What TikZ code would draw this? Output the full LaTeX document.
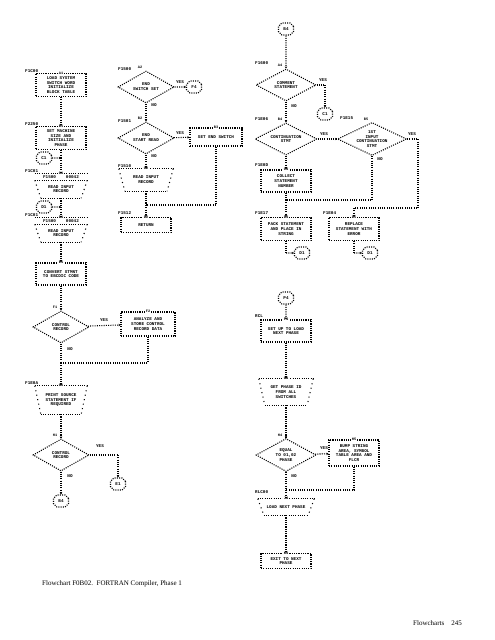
\documentclass[tikz,border=0pt]{standalone}
\usepackage{fontspec}
\setmainfont{Liberation Serif}
\newfontfamily\lpfont{Liberation Mono}
\usetikzlibrary{shapes.geometric,shapes.misc,arrows.meta}
\tikzset{
  ast/.style={line width=1.05pt, dash pattern=on 1.05pt off 1.2pt, black},
  sparse/.style={line width=1.05pt, dash pattern=on 1.05pt off 3.5pt, black},
  lp/.style={font=\lpfont\bfseries\fontsize{4.3}{4.8}\selectfont, align=center, inner sep=0pt, text=black},
  proc/.style={lp, draw, ast, minimum width=50, minimum height=22},
  dec/.style={lp, draw, ast, diamond, aspect=2.2, minimum width=56, minimum height=32, inner sep=0pt},
  conn/.style={lp, draw, ast, chamfered rectangle, chamfered rectangle xsep=2pt, chamfered rectangle ysep=2pt, minimum width=15, minimum height=12},
  flow/.style={ast},
  fa/.style={ast, -{Stealth[length=2pt,width=2.4pt]}},
  lbl/.style={lp, anchor=south west},
  yn/.style={lp},
  grid/.style={lp, fill=white, inner sep=0.4pt, font=\lpfont\bfseries\fontsize{3.6}{4}\selectfont}
}
\newcommand{\ionode}[6]{%
  \node[lp, minimum width=#3, minimum height=#4] (#1) at (#2) {#5};
  \draw[ast] (#1.north west) -- (#1.north east);
  \draw[ast] ([xshift=6pt]#1.south west) -- ([xshift=-6pt]#1.south east);
  \draw[sparse] (#1.north west) -- ([xshift=6pt]#1.south west);
  \draw[sparse] (#1.north east) -- ([xshift=-6pt]#1.south east);
  \node[grid] at (#1.north) {#6};
}
\newcommand{\stripenode}[7]{%
  \node[minimum width=#3, minimum height=#4, inner sep=0pt] (#1) at (#2) {};
  \draw[ast] (#1.north west) -- (#1.north east);
  \node[lp, anchor=north] at ([yshift=-1.3pt]#1.north) {#6};
  \draw[ast] ([yshift=-6.5pt]#1.north west) -- ([yshift=-6.5pt]#1.north east);
  \node[lp] at ([yshift=-3.2pt]#1.center) {#5};
  \draw[ast] ([xshift=6pt]#1.south west) -- ([xshift=-6pt]#1.south east);
  \draw[sparse] ([yshift=-6.5pt]#1.north west) -- ([xshift=6pt]#1.south west);
  \draw[sparse] ([yshift=-6.5pt]#1.north east) -- ([xshift=-6pt]#1.south east);
  \node[grid] at (#1.north) {#7};
}
\begin{document}
\begin{tikzpicture}[x=1pt,y=-1pt]
\useasboundingbox[fill=white] (0,0) rectangle (495,640);

% ---------------- column 1 ----------------
\node[proc, minimum height=23] (a1) at (61,85) {LOAD SYSTEM\\SWITCH WORD\\INITIALIZE\\BLOCK TABLE};
\node[grid] at (a1.north) {A1};
\node[lbl] at (25,73) {F1C00};

\node[proc, minimum height=23] (b1) at (61,138) {SET MACHINE\\SIZE AND\\INITIALIZE\\PHASE};
\node[grid] at (b1.north) {B1};
\node[lbl] at (25,126) {F2250};

\node[conn] (cc1) at (44,158) {C1};
\coordinate (j1) at (61,158);

\stripenode{c1}{61,186}{52}{24}{READ INPUT\\RECORD}{F1500\hspace{10pt}00042}{C1}
\node[lbl] at (25,173) {F1C01};

\node[conn] (cd1) at (44,207) {D1};
\coordinate (j2) at (61,207);

\stripenode{d1}{61,230}{52}{24}{READ INPUT\\RECORD}{F1500\hspace{10pt}00042}{D1}
\node[lbl] at (25,217) {F1C01};

\node[proc] (e1) at (61,274) {CONVERT STMNT\\TO EBCDIC CODE};
\node[grid] at (e1.north) {E1};

\node[dec] (f1) at (61,327) {CONTROL\\RECORD};
\node[grid] at ([xshift=-6pt,yshift=3pt]f1.north) {F1};
\node[yn] at (104,320) {YES};
\node[yn] at (70,349) {NO};

\node[proc, minimum width=54, minimum height=24] (f2) at (148,324) {ANALYZE AND\\STORE CONTROL\\RECORD DATA};
\node[grid] at (f2.north) {F2};

\coordinate (j3) at (61,363);
\coordinate (j3r) at (148,363);

\ionode{g1}{61,400}{52}{28}{PRINT SOURCE\\STATEMENT IF\\REQUIRED}{G1}
\node[lbl] at (25,385) {F1E0A};

\node[dec] (h1) at (61,455) {CONTROL\\RECORD};
\node[grid] at ([xshift=-6pt,yshift=3pt]h1.north) {H1};
\node[yn] at (100,446) {YES};
\node[yn] at (70,476) {NO};

\node[conn] (ce1) at (118,484) {E1};
\coordinate (h1r) at (118,455);
\node[conn] (cb4) at (61,501) {B4};

% ---------------- column 2 ----------------
\node[dec] (a2) at (146,87) {END\\SWITCH SET};
\node[grid] at ([xshift=-6pt,yshift=3pt]a2.north) {A2};
\node[lbl] at (118,71) {F1500};
\node[yn] at (180,82) {YES};
\node[conn] (cf4) at (194,87) {F4};
\node[yn] at (154,105) {NO};

\node[dec] (b2) at (146,138) {END\\START READ};
\node[grid] at ([xshift=-6pt,yshift=3pt]b2.north) {B2};
\node[lbl] at (118,123) {F1501};
\node[yn] at (180,133) {YES};
\node[yn] at (154,156) {NO};

\node[proc, minimum width=52, minimum height=18] (b3) at (216,137) {SET END SWITCH};
\node[grid] at (b3.north) {B3};

\ionode{c2}{146,180}{54}{22}{READ INPUT\\RECORD}{C2}
\node[lbl] at (118,168) {F1510};

\coordinate (j4) at (146,205);
\coordinate (j4r) at (216,205);

\node[proc, minimum width=50, minimum height=15] (d2) at (146,225) {RETURN};
\node[grid] at (d2.north) {D2};
\node[lbl] at (118,215) {F1512};

% ---------------- column 3 ----------------
\node[conn] (cb4t) at (286,29) {B4};

\node[dec, minimum width=60] (a4) at (286,85) {COMMENT\\STATEMENT};
\node[grid] at ([xshift=-6pt,yshift=3pt]a4.north) {A4};
\node[lbl] at (255,65) {F1600};
\node[yn] at (323,80) {YES};
\node[yn] at (294,106) {NO};
\coordinate (a4r) at (325,85);
\node[conn] (cc1b) at (325,114) {C1};

\node[dec, minimum width=62] (b4) at (286,139) {CONTINUATION\\STMT};
\node[grid] at ([xshift=-6pt,yshift=3pt]b4.north) {B4};
\node[lbl] at (255,121) {F1E06};
\node[yn] at (324,134) {YES};

\node[dec, minimum width=62, minimum height=33] (b5) at (372,139) {1ST\\INPUT\\CONTINUATION\\STMT};
\node[grid] at ([xshift=-6pt,yshift=3pt]b5.north) {B5};
\node[lbl] at (340,120) {F1E15};
\node[yn] at (412,134) {YES};
\node[yn] at (380,159) {NO};
\coordinate (b5r) at (418,139);
\coordinate (b5rd) at (418,208);
\coordinate (d5t) at (354,208);
\coordinate (b5b) at (372,200);
\coordinate (j5) at (286,200);

\node[proc] (c4) at (286,181) {COLLECT\\STATEMENT\\NUMBER};
\node[grid] at (c4.north) {C4};
\node[lbl] at (255,167) {F1E0D};

\node[proc, minimum height=23] (d4) at (286,229) {PACK STATEMENT\\AND PLACE IN\\STRING};
\node[grid] at (d4.north) {D4};
\node[lbl] at (255,215) {F1E17};
\node[conn] (cd1b) at (302,253) {D1};
\coordinate (d4b) at (286,253);

\node[proc, minimum height=23] (d5) at (354,229) {REPLACE\\STATEMENT WITH\\ERROR};
\node[grid] at (d5.north) {D5};
\node[lbl] at (323,215) {F1E04};
\node[conn] (cd1c) at (370,253) {D1};
\coordinate (d5b) at (354,253);

\node[conn] (cp4) at (286,298) {P4};

\node[proc] (f4) at (286,331) {SET UP TO LOAD\\NEXT PHASE};
\node[grid] at (f4.north) {F4};
\node[lbl] at (255,318) {RCL};

\ionode{g4}{286,392}{54}{26}{GET PHASE ID\\FROM ALL\\SWITCHES}{G4}

\node[dec, minimum width=60, minimum height=33] (h4) at (286,455) {EQUAL\\TO 01,02\\PHASE};
\node[grid] at ([xshift=-6pt,yshift=3pt]h4.north) {H4};
\node[yn] at (324,448) {YES};
\node[yn] at (294,476) {NO};

\node[proc, minimum height=26] (h5) at (354,453) {BUMP STRING\\AREA, SYMBOL\\TABLE AREA AND\\FLCR};
\node[grid] at (h5.north) {H5};

\coordinate (j6) at (286,490);
\coordinate (j6r) at (354,490);

\ionode{j4n}{286,507}{56}{16}{LOAD NEXT PHASE}{J4}
\node[lbl] at (255,494) {RLC00};

\node[proc, minimum height=15] (k4) at (286,561) {EXIT TO NEXT\\PHASE};
\node[grid] at (k4.north) {K4};

% ---------------- connectors ----------------
\draw[fa] (a1) -- (b1);
\draw[flow] (b1) -- (j1);
\draw[fa] (cc1) -- (j1);
\draw[fa] (j1) -- (c1);
\draw[flow] (c1) -- (j2);
\draw[fa] (cd1) -- (j2);
\draw[fa] (j2) -- (d1);
\draw[fa] (d1) -- (e1);
\draw[fa] (e1) -- (f1);
\draw[fa] (f1) -- (f2);
\draw[flow] (f1) -- (j3);
\draw[flow] (f2) -- (j3r) -- (j3);
\draw[fa] (j3) -- (g1);
\draw[fa] (g1) -- (h1);
\draw[flow] (h1.east) -- (h1r);
\draw[fa] (h1r) -- (ce1);
\draw[fa] (h1) -- (cb4);

\draw[fa] (a2) -- (cf4);
\draw[fa] (a2) -- (b2);
\draw[fa] (b2) -- (b3);
\draw[fa] (b2) -- (c2);
\draw[flow] (c2) -- (j4);
\draw[flow] (b3) -- (j4r) -- (j4);
\draw[fa] (j4) -- (d2);

\draw[fa] (cb4t) -- (a4);
\draw[flow] (a4.east) -- (a4r);
\draw[fa] (a4r) -- (cc1b);
\draw[fa] (a4) -- (b4);
\draw[fa] (b4) -- (b5);
\draw[fa] (b4) -- (c4);
\draw[flow] (b5.east) -- (b5r) -- (b5rd) -- (d5t);
\draw[fa] (d5t) -- (d5);
\draw[flow] (b5) -- (b5b) -- (j5);
\draw[flow] (c4) -- (j5);
\draw[fa] (j5) -- (d4);
\draw[flow] (d4) -- (d4b);
\draw[fa] (d4b) -- (cd1b);
\draw[flow] (d5) -- (d5b);
\draw[fa] (d5b) -- (cd1c);

\draw[fa] (cp4) -- (f4);
\draw[fa] (f4) -- (g4);
\draw[fa] (g4) -- (h4);
\draw[fa] (h4) -- (h5);
\draw[flow] (h4) -- (j6);
\draw[flow] (h5) -- (j6r) -- (j6);
\draw[fa] (j6) -- (j4n);
\draw[fa] (j4n) -- (k4);

% ---------------- captions ----------------
\node[anchor=base west, font=\fontsize{7}{8}\selectfont, inner sep=0pt] (cap) at (42,585) {Flowchart F0B02.\enspace FORTRAN Compiler, Phase 1};
\node[anchor=base west, font=\fontsize{7}{8}\selectfont, inner sep=0pt] (pg) at (413,625) {Flowcharts\quad 245};
\end{tikzpicture}
\end{document}
